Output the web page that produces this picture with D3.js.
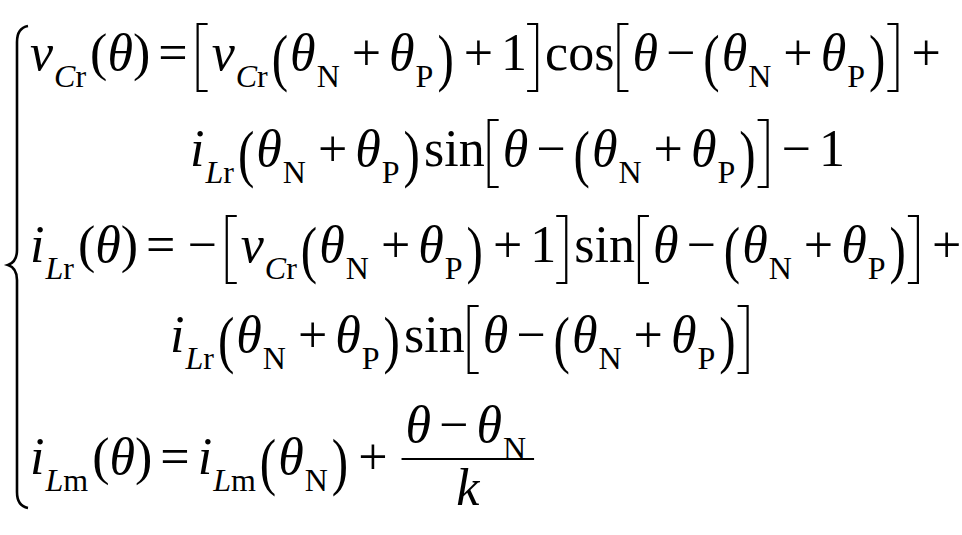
<!DOCTYPE html>
<html><head><meta charset="utf-8">
<script src="https://cdn.jsdelivr.net/npm/d3@7"></script>
<style>html,body{margin:0;padding:0;background:#fff;}svg{display:block;}</style>
</head><body>
<script>
// ---- equation content (tokens) ----
// "_xx" = subscript, "((" / "))" = stretched parentheses, "[" "]" = tall brackets
const line1 = ["v","_Cr","(","θ",")","=","[","v","_Cr","((","θ","_N","+","θ","_P","))","+","1","]","cos","[","θ","−","((","θ","_N","+","θ","_P","))","]","+"];
const line2 = ["i","_Lr","((","θ","_N","+","θ","_P","))","sin","[","θ","−","((","θ","_N","+","θ","_P","))","]","−","1"];
const line3 = ["i","_Lr","(","θ",")","=","−","[","v","_Cr","((","θ","_N","+","θ","_P","))","+","1","]","sin","[","θ","−","((","θ","_N","+","θ","_P","))","]","+"];
const line4 = ["i","_Lr","((","θ","_N","+","θ","_P","))","sin","[","θ","−","((","θ","_N","+","θ","_P","))","]"];
const line5 = ["i","_Lm","(","θ",")","=","i","_Lm","((","θ","_N","))","+","FRAC"];
const fracNum = ["θ","−","θ","_N"];
const fracDen = ["k"];
const lines = [line1, line2, line3, line4, line5];

// ---- layout ----
const W = 962, H = 535;
const FONT = "'Liberation Serif', 'Times New Roman', Times, serif";
const FS = 52, SFS = 32;
const italicSet = new Set(["v","i","θ","C","L","k"]);
const ops = new Set(["=","+","−"]);
const lineX = [30, 190, 30, 170, 30];
const baseY = d3.scaleOrdinal().domain([0,1,2,3,4]).range([70, 166, 262, 352, 474]);

const svg = d3.select("body").append("svg").attr("width", W).attr("height", H);
svg.append("rect").attr("width", W).attr("height", H).attr("fill", "#fff");

function addText(g, str, x, y, size, italic) {
  const t = g.append("text").attr("x", x).attr("y", y)
    .style("font-family", FONT).style("font-size", size + "px")
    .style("font-style", italic ? "italic" : "normal")
    .attr("fill", "#000").text(str);
  return t.node().getComputedTextLength();
}

function bracket(g, x, y, left) {
  const top = y - 46, bot = y + 21, w = 12;
  const xs = left ? x + 2 : x + w - 2;
  const xe = left ? xs + w - 2 : xs - w + 2;
  g.append("path")
    .attr("d", `M${xe},${top} L${xs},${top} L${xs},${bot} L${xe},${bot}`)
    .attr("fill", "none").attr("stroke", "#000").attr("stroke-width", 2.2);
  return w + 4;
}

function layout(g, tokens, x0, y) {
  let x = x0, prev = null;
  tokens.forEach((tk, i) => {
    const last = i === tokens.length - 1;
    if (tk === "FRAC") {
      x += 6;
      x += fraction(g, x, y);
    } else if (tk.startsWith("_")) {
      const s = tk.slice(1);
      let sx = x + 1;
      for (const ch of s) {
        sx += addText(g, ch, sx, y + 17, SFS, italicSet.has(ch));
      }
      x = sx + 4;
    } else if (tk === "((" || tk === "))") {
      const t = g.append("text")
        .style("font-family", FONT).style("font-size", (FS * 1.05) + "px")
        .attr("transform", `translate(${x},${y + 9}) scale(0.9,1.15)`)
        .attr("fill", "#000").text(tk[0]);
      x += t.node().getComputedTextLength() * 0.9 + 2;
    } else if (tk === "[" || tk === "]") {
      x += bracket(g, x, y, tk === "[");
    } else if (ops.has(tk)) {
      const gapL = (prev === "=") ? 4 : 8;
      x += gapL;
      x += addText(g, tk, x, y, FS, false);
      x += last ? 0 : 8;
    } else if (tk === "sin" || tk === "cos") {
      x += 2;
      x += addText(g, tk, x, y, FS, false);
      x += 2;
    } else {
      x += addText(g, tk, x, y, FS, italicSet.has(tk));
    }
    prev = tk;
  });
  return x - x0;
}

function fraction(g, x, y) {
  const ng = g.append("g"), dg = g.append("g");
  const nw = layout(ng, fracNum, 0, 0);
  const dw = layout(dg, fracDen, 0, 0);
  const bw = Math.max(nw, dw) + 8;
  const axis = y - 15;
  ng.attr("transform", `translate(${x + (bw - nw) / 2},${axis - 17})`);
  dg.attr("transform", `translate(${x + (bw - dw) / 2},${axis + 46})`);
  g.append("line").attr("x1", x).attr("x2", x + bw).attr("y1", axis).attr("y2", axis)
    .attr("stroke", "#000").attr("stroke-width", 2.2);
  return bw;
}

lines.forEach((tokens, i) => {
  const g = svg.append("g").attr("class", "eq-line");
  layout(g, tokens, lineX[i], baseY(i));
});

// left curly brace
svg.append("path")
  .attr("d", "M28,26 Q17,28 17,42 L17,250 Q17,262 8,265 Q17,268 17,280 L17,492 Q17,506 28,508")
  .attr("fill", "none").attr("stroke", "#000").attr("stroke-width", 2.6);
</script>
</body></html>
